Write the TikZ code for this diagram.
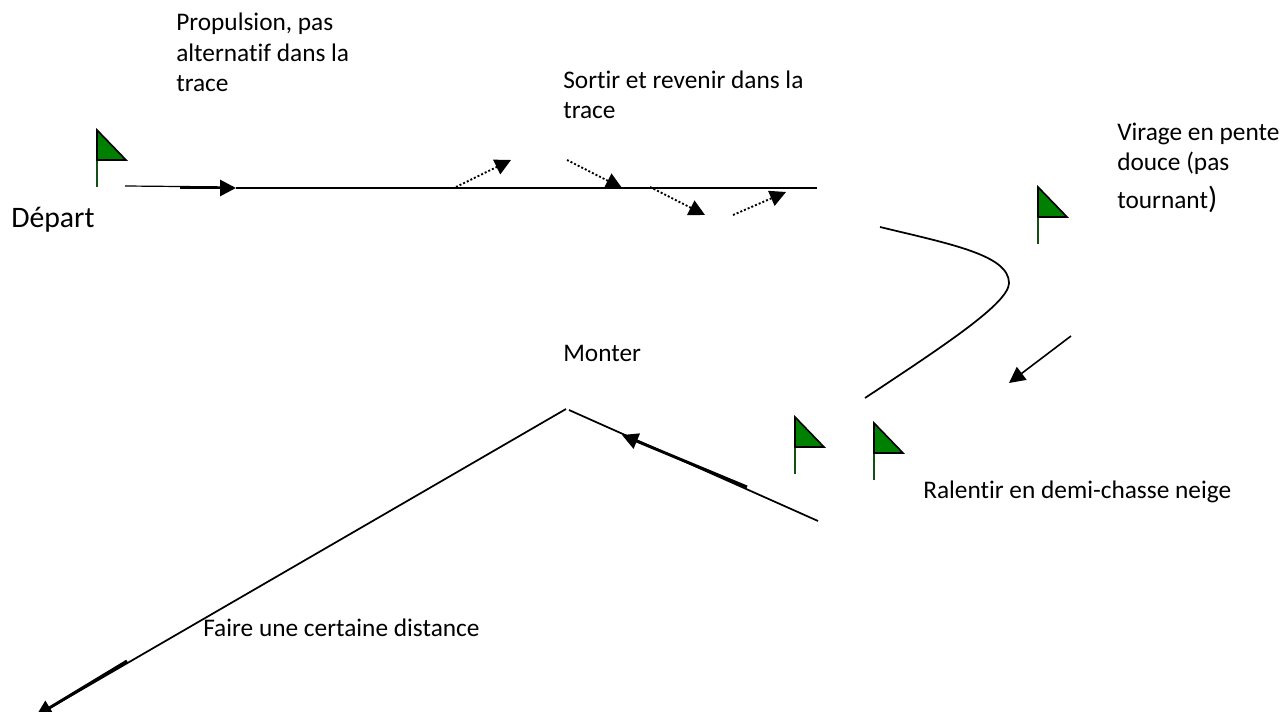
\documentclass[tikz,border=0pt]{standalone}
\usepackage{fontspec}
\setmainfont{Carlito}[Ligatures=NoCommon]
\usetikzlibrary{arrows.meta}
\definecolor{flaggreen}{RGB}{0,128,0}
\definecolor{poleGreen}{RGB}{20,80,20}
\tikzstyle{label} = [
 inner sep = 0pt,
 anchor = base west,
 align = left,
 font = \fontsize{19}{22.5}\selectfont
]
\tikzstyle{track} = [
 line width = 1.3pt,
 black
]
\tikzstyle{move} = [
 line width = 1.2pt,
 -{Triangle[length=12pt,width=12pt]}
]
\tikzstyle{heavyMove} = [
 line width = 2.2pt,
 -{Triangle[length=12pt,width=12pt]}
]
\tikzstyle{sideStep} = [
 line width = 1.4pt,
 dash pattern = on 1.5pt off 1.5pt,
 -{Triangle[length=12pt,width=12pt]}
]
\tikzset{
  skiFlag/.pic = {
    \draw [poleGreen, line width = 1.8pt] (0,30) -- (0,57);
    \draw [fill=flaggreen, line width = 1.2pt, line join=miter] (0,0) -- (29,30) -- (0,30) -- cycle;
  }
}

\begin{document}
\begin{tikzpicture}[x=0.75pt, y=-0.75pt]
  \useasboundingbox (0,0) rectangle (1285,712);
  % flags
  \pic at (97,130) {skiFlag};
  \pic at (1038,187) {skiFlag};
  \pic at (795,417) {skiFlag};
  \pic at (874,423) {skiFlag};

  % first straight part
  \coordinate (start) at (125,186);
  \coordinate (startEnd) at (233,187);
  \coordinate (pushFrom) at (180,188);
  \coordinate (pushTo) at (236,188);
  \coordinate (traceEnd) at (817,188);
  \draw [line width = 0.9pt] (start) -- (startEnd);
  \draw [heavyMove] (pushFrom) -- (pushTo);
  \draw [track] (pushTo) -- (traceEnd);

  % leaving the trace and back
  \coordinate (outA) at (456,187);
  \coordinate (outATip) at (511,160);
  \coordinate (inA) at (567,160);
  \coordinate (inATip) at (622,188);
  \coordinate (outB) at (650,187);
  \coordinate (outBTip) at (705,215);
  \coordinate (inB) at (733,215);
  \coordinate (inBTip) at (786,192);
  \draw [sideStep] (outA) -- (outATip);
  \draw [sideStep] (inA) -- (inATip);
  \draw [sideStep] (outB) -- (outBTip);
  \draw [sideStep] (inB) -- (inBTip);

  % turn
  \coordinate (turnIn) at (880,227);
  \coordinate (turnMid) at (1009,283);
  \coordinate (turnOut) at (865,398);
  \draw [track] (turnIn) .. controls (950,244) and (1009,255) .. (turnMid)
    .. controls (1009,303) and (945,345) .. (turnOut);
  \coordinate (turnArrow) at (1071,336);
  \coordinate (turnTip) at (1009,383);
  \draw [move] (turnArrow) -- (turnTip);

  % climb and way down
  \coordinate (slopeFoot) at (818,521);
  \coordinate (peakRight) at (569,410);
  \coordinate (peakLeft) at (566,409);
  \coordinate (downEnd) at (36,716);
  \draw [track] (slopeFoot) -- (peakRight);
  \coordinate (climbFrom) at (747,487);
  \coordinate (climbTip) at (622,435);
  \draw [heavyMove] (climbFrom) -- (climbTip);
  \draw [track] (peakLeft) -- (downEnd);
  \coordinate (downFrom) at (127,661);
  \draw [heavyMove] (downFrom) -- (downEnd);

  % texts
  \node [label] (propulsion) at (176,92) {Propulsion, pas\\[0.4pt]alternatif dans la\\[0.6pt]trace};
  \node [label] (sortir) at (563,119) {Sortir et revenir dans la\\trace};
  \node [label] (virage) at (1117,209) {Virage en pente\\douce (pas\\[6pt]tournant{\fontsize{23}{22.5}\selectfont)}};
  \node [label] (monter) at (563,362) {Monter};
  \node [label] (ralentir) at (923,499) {Ralentir en demi-chasse neige};
  \node [label] (distance) at (203,636) {Faire une certaine distance};
  \node [label, font=\fontsize{22.3}{22.5}\selectfont] (depart) at (11,228) {Départ};
\end{tikzpicture}
\end{document}
